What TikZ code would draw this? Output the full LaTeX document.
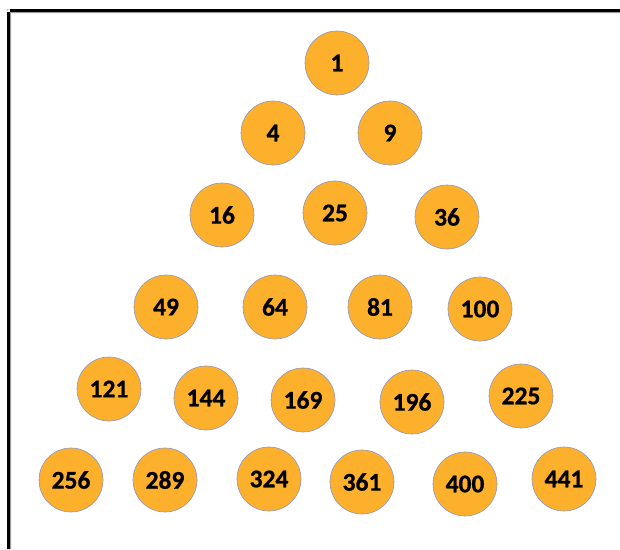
\documentclass[tikz,border=0pt]{standalone}
\usepackage{fontspec}
\setmainfont{Carlito}
\newfontfamily\numfont[FakeBold=0.8]{Carlito Bold}
\definecolor{ballfill}{RGB}{252,176,44}
\definecolor{balledge}{RGB}{140,150,200}
\begin{document}
\begin{tikzpicture}[x=1pt,y=-1pt,
  ball/.style={circle,draw=balledge,line width=0.6pt,fill=ballfill,minimum size=64pt,inner sep=0pt,
    font=\numfont\fontsize{25.5}{25.5}\selectfont,text=black}]
\useasboundingbox (0,0) rectangle (620,549);
\fill[white] (0,0) rectangle (620,549);
% frame
\fill[gray!60] (10,549) rectangle (11,12) (10,12) rectangle (620,13);
\fill[black] (7,549) rectangle (10,9) (7,9) rectangle (620,12);
% row 1
\node[ball] (n1) at (337,63) {1};
% row 2
\node[ball] (n4) at (273,133) {4};
\node[ball] (n9) at (390,133) {9};
% row 3
\node[ball] (n16) at (222,215) {16};
\node[ball] (n25) at (335,213) {25};
\node[ball] (n36) at (447,217) {36};
% row 4
\node[ball] (n49) at (166,307) {49};
\node[ball] (n64) at (275,307) {64};
\node[ball] (n81) at (380,307) {81};
\node[ball] (n100) at (480,309) {100};
% row 5
\node[ball] (n121) at (109,389) {121};
\node[ball] (n144) at (206,398) {144};
\node[ball] (n169) at (303,400) {169};
\node[ball] (n196) at (412,402) {196};
\node[ball] (n225) at (521,396) {225};
% row 6
\node[ball] (n256) at (71,480) {256};
\node[ball] (n289) at (165,480) {289};
\node[ball] (n324) at (269,479) {324};
\node[ball] (n361) at (362,482) {361};
\node[ball] (n400) at (465,484) {400};
\node[ball] (n441) at (564,479) {441};
\end{tikzpicture}
\end{document}
